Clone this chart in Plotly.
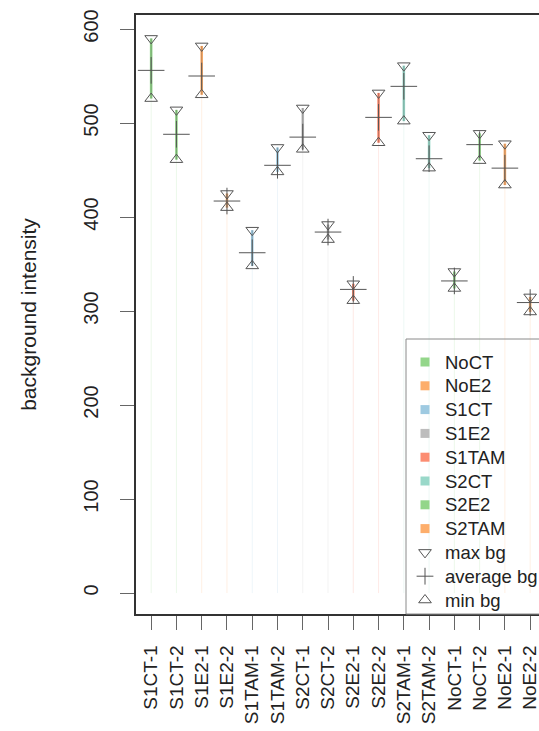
import plotly.graph_objects as go

samples = ["S1CT-1", "S1CT-2", "S1E2-1", "S1E2-2", "S1TAM-1", "S1TAM-2",
           "S2CT-1", "S2CT-2", "S2E2-1", "S2E2-2", "S2TAM-1", "S2TAM-2",
           "NoCT-1", "NoCT-2", "NoE2-1", "NoE2-2"]
max_bg = [590, 514, 582, 425, 386, 474, 516, 392, 329, 532, 561, 487, 342, 489, 478, 315]
avg_bg = [556, 488, 550, 417, 362, 455, 485, 384, 323, 506, 539, 462, 332, 477, 452, 309]
min_bg = [526, 461, 530, 410, 348, 448, 472, 376, 311, 479, 502, 452, 324, 460, 434, 299]

palette = ["#93d68a", "#fdae6b", "#9ecae1", "#bdbdbd", "#fc8d72", "#99d8c9", "#93d68a", "#fdae6b"]
sample_colors = [palette[i // 2] for i in range(len(samples))]

legend_groups = ["NoCT", "NoE2", "S1CT", "S1E2", "S1TAM", "S2CT", "S2E2", "S2TAM"]
legend_colors = palette
legend_marks = ["max bg", "average bg", "min bg"]


def hex_rgba(h, a):
    h = h.lstrip("#")
    return "rgba(%d,%d,%d,%.2f)" % (int(h[0:2], 16), int(h[2:4], 16), int(h[4:6], 16), a)


fig = go.Figure()
FONT = "Liberation Sans, Arial, sans-serif"

# faint lines from 0 up to min
for s, lo, c in zip(samples, min_bg, sample_colors):
    fig.add_trace(go.Scatter(x=[s, s], y=[0, lo], mode="lines",
                             line=dict(color=hex_rgba(c, 0.18), width=1),
                             showlegend=False, hoverinfo="skip"))
# coloured min-max lines
for s, lo, hi, c in zip(samples, min_bg, max_bg, sample_colors):
    fig.add_trace(go.Scatter(x=[s, s], y=[lo, hi], mode="lines",
                             line=dict(color=c, width=2.6),
                             showlegend=False, hoverinfo="skip"))
    fig.add_trace(go.Scatter(x=[s, s], y=[lo, hi], mode="lines",
                             line=dict(color="rgba(40,40,40,0.35)", width=0.8),
                             showlegend=False, hoverinfo="skip"))

mk_col = "#555555"
fig.add_trace(go.Scatter(x=samples, y=max_bg, mode="markers",
                         marker=dict(symbol="triangle-down-open", size=11,
                                     color=mk_col, line=dict(width=1, color=mk_col)),
                         showlegend=False))
fig.add_trace(go.Scatter(x=samples, y=min_bg, mode="markers",
                         marker=dict(symbol="triangle-up-open", size=11,
                                     color=mk_col, line=dict(width=1, color=mk_col)),
                         showlegend=False))
fig.add_trace(go.Scatter(x=samples, y=avg_bg, mode="markers",
                         marker=dict(symbol="cross-thin-open", size=19,
                                     color=mk_col, line=dict(width=1, color=mk_col)),
                         showlegend=False))

# ---- manual legend (overlay axes in paper fractions) ----
L, R_, T, B = 136, 539, 15, 614
W, H = R_ - L, B - T
def px(xp):
    return (xp - L) / W
def py(yp):
    return (B - yp) / H

row0, step = 362, 23.8
sym_x, txt_x = 425, 443
labels_all = legend_groups + legend_marks
for i, lab in enumerate(labels_all):
    yy = py(row0 + step * i)
    if i < len(legend_groups):
        marker = dict(symbol="square", size=9, color=legend_colors[i], line=dict(width=0))
    else:
        sym = ["triangle-down-open", "cross-thin-open", "triangle-up-open"][i - len(legend_groups)]
        sz = 12 if sym == "cross-thin-open" else 11
        marker = dict(symbol=sym, size=sz, color=mk_col, line=dict(width=1, color=mk_col))
    fig.add_trace(go.Scatter(x=[px(sym_x)], y=[yy], mode="markers", marker=marker,
                             xaxis="x2", yaxis="y2", showlegend=False, hoverinfo="skip"))
    fig.add_annotation(x=px(txt_x), y=yy, xref="paper", yref="paper", text=lab,
                       showarrow=False, xanchor="left", yanchor="middle",
                       font=dict(family=FONT, size=18.5, color="#222222"))

fig.add_shape(type="rect", xref="paper", yref="paper",
              x0=px(406), x1=1.05, y0=0, y1=py(339),
              line=dict(color="#8a8a8a", width=1), fillcolor="rgba(0,0,0,0)", layer="above")

fig.update_layout(
    width=539, height=731,
    margin=dict(l=L, r=0, t=T, b=731 - B, autoexpand=False),
    plot_bgcolor="white", paper_bgcolor="white",
    showlegend=False,
    font=dict(family=FONT, color="#222222"),
    xaxis=dict(type="category", categoryorder="array", categoryarray=samples,
               range=[-0.6, 15.35], showgrid=False, zeroline=False,
               showline=True, mirror=True, linecolor="#333333", linewidth=1.5,
               ticks="outside", ticklen=14, tickwidth=1, tickcolor="#666666",
               tickangle=-90, tickfont=dict(size=19), ticklabelstandoff=8),
    yaxis=dict(range=[-22.3, 614.9], tickvals=[0, 100, 200, 300, 400, 500, 600],
               showgrid=False, zeroline=False,
               showline=True, mirror=False, linecolor="#333333", linewidth=1.5,
               ticks="outside", ticklen=14, tickwidth=1, tickcolor="#666666",
               tickangle=-90, tickfont=dict(size=20), ticklabelstandoff=14,
               title=dict(text="background intensity", font=dict(size=21), standoff=38)),
    xaxis2=dict(overlaying="x", range=[0, 1], visible=False, fixedrange=True),
    yaxis2=dict(overlaying="y", range=[0, 1], visible=False, fixedrange=True),
)

fig.write_html("out.html")
